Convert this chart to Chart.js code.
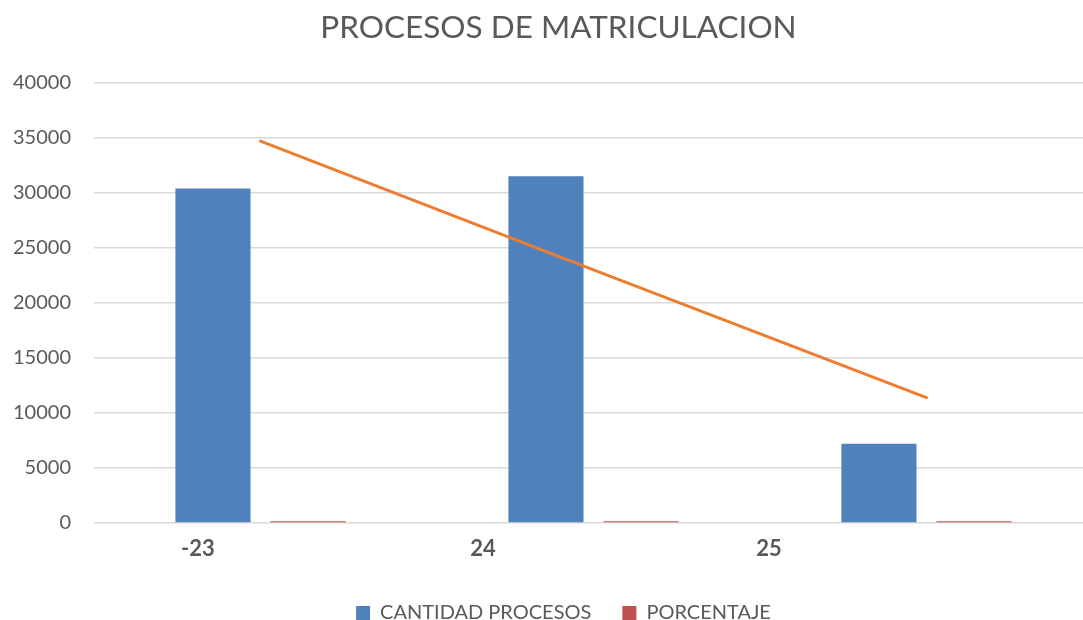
<!DOCTYPE html>
<html lang="es">
<head>
    <meta charset="UTF-8">
    <title>Procesos de matriculacion</title>
    <style>
        body { margin: 0; overflow: hidden; background: #fff; }
        #wrap { width: 1120px; height: 640px; }
    </style>
</head>
<body>
    <div id="wrap">
        <canvas id="myChart"></canvas>
    </div>

    <script src="https://cdn.jsdelivr.net/npm/chart.js"></script>

    <script>
        // values
        const categories = ["-23", "24", "25"];
        const xLabels = ["-23", "24", "25"];
        const cantidadProcesos = [30400, 31500, 7200];
        const porcentaje = [150, 150, 150];
        const tendencia = [34700, 23000, 11400];
        const yTicks = [0, 5000, 10000, 15000, 20000, 25000, 30000, 35000, 40000];

        const gray = "#595959";

        // title and legend are centred a bit right of the plot in the original
        const nudge = {
            id: "nudge",
            afterLayout(chart) {
                if (chart.titleBlock) {
                    chart.titleBlock.left += 9;
                    chart.titleBlock.right += 9;
                }
                if (chart.legend) {
                    chart.legend.left += 14;
                    chart.legend.right += 14;
                }
            }
        };

        function drawChart() {
            const ctx = document.getElementById("myChart");

            new Chart(ctx, {
                type: "bar",
                data: {
                    labels: categories,
                    datasets: [{
                        label: "CANTIDAD PROCESOS",
                        data: cantidadProcesos,
                        backgroundColor: "#4F81BD",
                        order: 1
                    }, {
                        label: "PORCENTAJE",
                        data: porcentaje,
                        backgroundColor: "#C0504D",
                        order: 1
                    }, {
                        type: "line",
                        label: "tendencia",
                        data: tendencia,
                        borderColor: "#ED7D31",
                        borderWidth: 3,
                        borderCapStyle: "round",
                        pointRadius: 0,
                        tension: 0,
                        order: 0
                    }]
                },
                plugins: [nudge],
                options: {
                    responsive: true,
                    maintainAspectRatio: false,
                    animation: false,
                    categoryPercentage: 0.571,
                    barPercentage: 0.79,
                    layout: {
                        padding: { left: 6, right: 27, top: 0, bottom: 7 }
                    },
                    scales: {
                        x: {
                            display: false
                        },
                        // the category names sit left of the bar groups in the original
                        xl: {
                            type: "linear",
                            position: "bottom",
                            min: -0.5,
                            max: 2.5,
                            offset: false,
                            grid: { display: false, offset: false },
                            border: { display: false },
                            afterBuildTicks: (axis) => {
                                axis.ticks = [-0.188, 0.668, 1.527].map(v => ({ value: v }));
                            },
                            afterFit: (axis) => {
                                axis.height = 49;
                                axis.paddingLeft = 0;
                                axis.paddingRight = 0;
                            },
                            ticks: {
                                autoSkip: false,
                                maxRotation: 0,
                                padding: 5,
                                color: gray,
                                font: { family: "Lato", size: 22, weight: "bold" },
                                callback: (value, index) => xLabels[index]
                            }
                        },
                        y: {
                            min: 0,
                            max: 40000,
                            afterBuildTicks: (axis) => {
                                axis.ticks = yTicks.map(v => ({ value: v }));
                            },
                            afterFit: (axis) => {
                                axis.width = 88;
                            },
                            grid: {
                                color: "#d9d9d9",
                                lineWidth: 1.5,
                                drawTicks: false
                            },
                            border: { display: false },
                            ticks: {
                                padding: 23,
                                color: gray,
                                font: { family: "Lato", size: 20 },
                                callback: (value) => String(value)
                            }
                        }
                    },
                    plugins: {
                        title: {
                            display: true,
                            text: "PROCESOS DE MATRICULACION",
                            color: gray,
                            font: { family: "Lato", size: 31.5, weight: "normal" },
                            padding: { top: 9, bottom: 36 }
                        },
                        legend: {
                            position: "bottom",
                            labels: {
                                filter: (item) => item.datasetIndex < 2,
                                boxWidth: 14,
                                boxHeight: 14,
                                padding: 31,
                                color: gray,
                                font: { family: "Lato", size: 20 }
                            }
                        },
                        tooltip: { enabled: false }
                    }
                }
            });
        }

        document.fonts.load("20px Lato").then(drawChart, drawChart);
    </script>
</body>
</html>
